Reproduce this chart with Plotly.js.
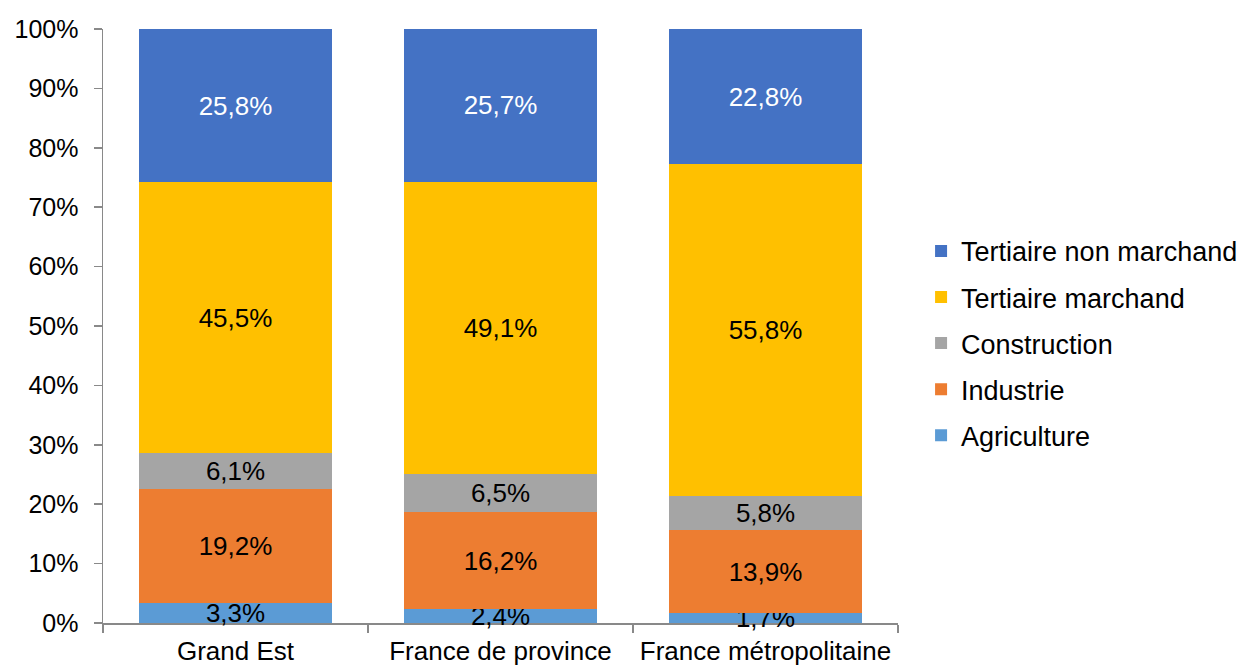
<!DOCTYPE html>
<html>
<head>
<meta charset="utf-8">
<script src="https://cdn.plot.ly/plotly-3.0.1.min.js"></script>
<style>html,body{margin:0;padding:0;background:#fff;}#chart{width:1237px;height:668px;}</style>
</head>
<body>
<div id="chart"></div>
<script>
const categories = ["Grand Est", "France de province", "France métropolitaine"];
const seriesNames = ["Agriculture", "Industrie", "Construction", "Tertiaire marchand", "Tertiaire non marchand"];
const agriculture = [3.3, 2.4, 1.7];
const industrie = [19.2, 16.2, 13.9];
const construction = [6.1, 6.5, 5.8];
const tertiaireMarchand = [45.5, 49.1, 55.8];
const tertiaireNonMarchand = [25.8, 25.7, 22.8];
const yTickValues = [0, 10, 20, 30, 40, 50, 60, 70, 80, 90, 100];

const seriesValues = [agriculture, industrie, construction, tertiaireMarchand, tertiaireNonMarchand];
const colors = ["#5B9BD5", "#ED7D31", "#A5A5A5", "#FFC000", "#4472C4"];
const textColors = ["#000000", "#000000", "#000000", "#000000", "#FFFFFF"];
const FONT = "Liberation Sans, Arial, sans-serif";
const FS = 26;

const fmt = v => v.toFixed(1).replace(".", ",") + "%";

const traces = seriesValues.map((vals, i) => ({
  type: "bar",
  name: seriesNames[i],
  x: categories,
  y: vals,
  marker: {color: colors[i], line: {width: 0}},
  text: vals.map(fmt),
  textposition: "inside",
  insidetextanchor: "middle",
  constraintext: "none",
  cliponaxis: false,
  textangle: 0,
  insidetextfont: {family: FONT, size: FS, color: textColors[i]},
  hoverinfo: "skip",
  legendgroup: "g" + i,
  legendrank: seriesValues.length - i
}));

const layout = {
  width: 1237,
  height: 668,
  margin: {l: 103, r: 339, t: 29, b: 45, autoexpand: false},
  paper_bgcolor: "#ffffff",
  plot_bgcolor: "#ffffff",
  barmode: "stack",
  barnorm: "percent",
  bargap: 0.272,
  font: {family: FONT, size: FS, color: "#000000"},
  showlegend: true,
  legend: {
    x: 0.7446,
    xanchor: "left",
    xref: "container",
    y: 0.486,
    yanchor: "middle",
    yref: "container",
    traceorder: "grouped",
    tracegroupgap: 8,
    font: {family: FONT, size: 27, color: "#000000"},
    bgcolor: "rgba(0,0,0,0)",
    itemclick: false
  },
  xaxis: {
    type: "category",
    showline: true,
    linecolor: "#898989",
    linewidth: 1.5,
    layer: "below traces",
    ticks: "outside",
    tickson: "boundaries",
    ticklen: 8,
    tickcolor: "#898989",
    tickwidth: 1.5,
    ticklabelstandoff: 4,
    showgrid: false,
    zeroline: false,
    tickfont: {family: FONT, size: FS, color: "#000000"},
    fixedrange: true
  },
  yaxis: {
    range: [0, 100],
    tickvals: yTickValues,
    ticktext: yTickValues.map(v => v + "%"),
    showline: true,
    linecolor: "#898989",
    linewidth: 1.5,
    layer: "below traces",
    ticks: "outside",
    ticklen: 8,
    tickcolor: "#898989",
    tickwidth: 1.5,
    ticklabelstandoff: 10,
    showgrid: false,
    zeroline: false,
    tickfont: {family: FONT, size: 25, color: "#000000"},
    fixedrange: true
  }
};

Plotly.newPlot("chart", traces, layout, {displayModeBar: false, staticPlot: true});
</script>
</body>
</html>
